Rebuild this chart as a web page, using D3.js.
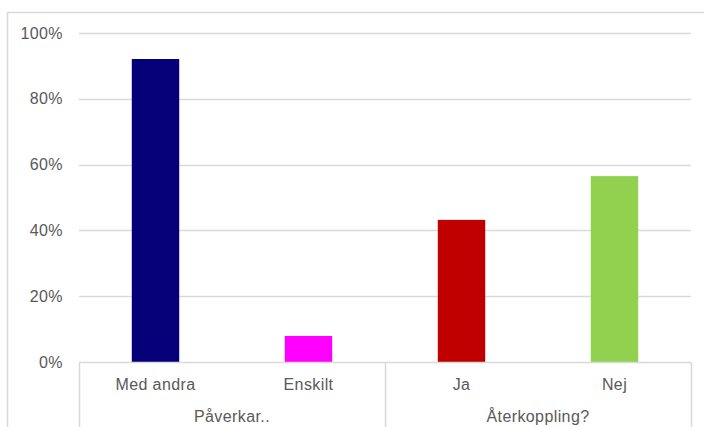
<!DOCTYPE html>
<html>
<head>
<meta charset="utf-8">
<script src="https://cdn.jsdelivr.net/npm/d3@7"></script>
<style>
  body { margin: 0; background: #fff; }
  svg text { font-family: "Liberation Sans", Arial, sans-serif; fill: #595959; letter-spacing: 0.4px; }
</style>
</head>
<body>
<div id="chart"></div>
<script>
// data
const categories = ["Med andra", "Enskilt", "Ja", "Nej"];
const groups = ["Påverkar..", "Påverkar..", "Återkoppling?", "Återkoppling?"];
const values = [0.921, 0.079, 0.432, 0.565];
const colors = ["#050077", "#ff00ff", "#c00000", "#92d050"];
const yTicks = [0, 0.2, 0.4, 0.6, 0.8, 1.0];

const width = 704, height = 427;
const margin = { top: 33, right: 13, bottom: 65, left: 79 };
const fontSize = "16px";

const svg = d3.select("#chart")
    .append("svg")
    .attr("width", width)
    .attr("height", height);

// рамка
svg.append("rect")
    .attr("x", 7.5).attr("y", 12.5)
    .attr("width", 720).attr("height", 440)
    .attr("fill", "none")
    .attr("stroke", "#d9d9d9")
    .attr("stroke-width", 1.5);

const x = d3.scaleBand()
    .domain(categories)
    .range([margin.left, width - margin.right])
    .paddingInner(0.69)
    .paddingOuter(0.345);

const y = d3.scaleLinear()
    .domain([0, 1])
    .range([height - margin.bottom, margin.top]);

// сітка
svg.append("g")
    .selectAll("line")
    .data(yTicks.slice(1))
    .enter()
    .append("line")
    .attr("x1", margin.left)
    .attr("x2", width - margin.right)
    .attr("y1", d => Math.round(y(d)) + 0.5)
    .attr("y2", d => Math.round(y(d)) + 0.5)
    .attr("stroke", "#d9d9d9")
    .attr("stroke-width", 1.5);

// y axis labels
const yAxis = svg.append("g")
    .attr("transform", `translate(${margin.left},0)`)
    .call(d3.axisLeft(y).tickValues(yTicks).tickFormat(d3.format(".0%")).tickSize(0).tickPadding(16));
yAxis.select(".domain").remove();
yAxis.selectAll("text").style("font-size", fontSize).attr("fill", "#595959");

// bars
svg.selectAll("rect.bar")
    .data(values)
    .enter()
    .append("rect")
    .attr("class", "bar")
    .attr("x", (d, i) => x(categories[i]))
    .attr("y", d => y(d))
    .attr("width", x.bandwidth())
    .attr("height", d => y(0) - y(d))
    .attr("fill", (d, i) => colors[i]);

// x axis line
const y0 = Math.round(y(0)) + 0.5;
svg.append("line")
    .attr("x1", margin.left).attr("x2", width - margin.right)
    .attr("y1", y0).attr("y2", y0)
    .attr("stroke", "#d9d9d9").attr("stroke-width", 1.5);

// group separators
const step = x.step();
const seps = [margin.left, margin.left + 2 * step, width - margin.right];
svg.selectAll("line.sep")
    .data(seps)
    .enter()
    .append("line")
    .attr("class", "sep")
    .attr("x1", d => Math.round(d) + 0.5)
    .attr("x2", d => Math.round(d) + 0.5)
    .attr("y1", y0)
    .attr("y2", height)
    .attr("stroke", "#d9d9d9")
    .attr("stroke-width", 1.5);

// category labels
svg.selectAll("text.cat")
    .data(categories)
    .enter()
    .append("text")
    .attr("class", "cat")
    .attr("x", d => x(d) + x.bandwidth() / 2)
    .attr("y", y0 + 27)
    .attr("text-anchor", "middle")
    .style("font-size", fontSize)
    .text(d => d);

// group labels
const groupNames = Array.from(new Set(groups));
svg.selectAll("text.grp")
    .data(groupNames)
    .enter()
    .append("text")
    .attr("class", "grp")
    .attr("x", (d, i) => margin.left + step * (2 * i + 1))
    .attr("y", y0 + 59)
    .attr("text-anchor", "middle")
    .style("font-size", fontSize)
    .text(d => d);
</script>
</body>
</html>
